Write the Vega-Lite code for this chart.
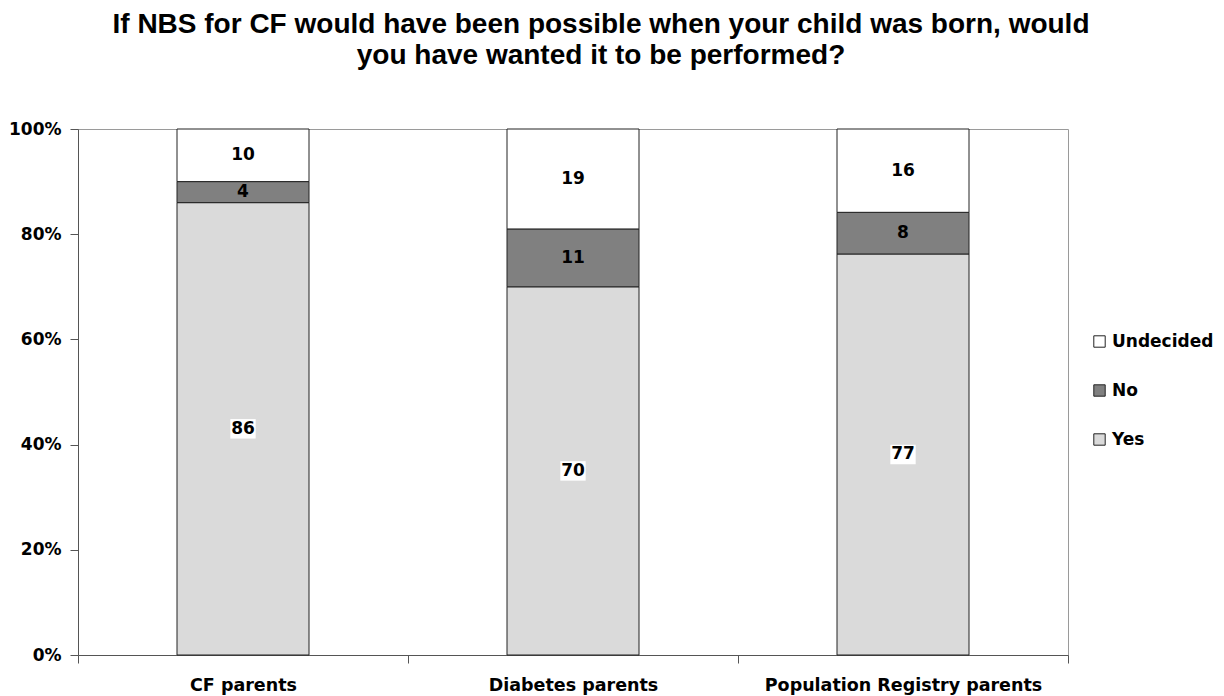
{
  "$schema": "https://vega.github.io/schema/vega-lite/v6.json",
  "autosize": {"type": "none"},
  "width": 990,
  "height": 526,
  "padding": {"left": 78, "top": 129, "right": 156, "bottom": 41},
  "background": "white",
  "title": {
    "text": ["If NBS for CF would have been possible when your child was born, would", "you have wanted it to be performed?"],
    "font": "Liberation Sans",
    "fontSize": 28,
    "fontWeight": "bold",
    "color": "black",
    "anchor": "middle",
    "dx": 28,
    "offset": 50,
    "lineHeight": 31
  },
  "config": {
    "view": {"stroke": "#9a9a9a", "strokeWidth": 1},
    "font": "DejaVu Sans"
  },
  "data": {
    "values": [
      {"group": "CF parents", "answer": "Yes", "pct": 86},
      {"group": "CF parents", "answer": "No", "pct": 4},
      {"group": "CF parents", "answer": "Undecided", "pct": 10},
      {"group": "Diabetes parents", "answer": "Yes", "pct": 70},
      {"group": "Diabetes parents", "answer": "No", "pct": 11},
      {"group": "Diabetes parents", "answer": "Undecided", "pct": 19},
      {"group": "Population Registry parents", "answer": "Yes", "pct": 77},
      {"group": "Population Registry parents", "answer": "No", "pct": 8},
      {"group": "Population Registry parents", "answer": "Undecided", "pct": 16}
    ]
  },
  "transform": [
    {"calculate": "indexof(['Yes','No','Undecided'], datum.answer)", "as": "ord"},
    {"stack": "pct", "groupby": ["group"], "sort": [{"field": "ord", "order": "ascending"}], "offset": "normalize", "as": ["v0", "v1"]},
    {"calculate": "(datum.v0 + datum.v1) / 2", "as": "mid"}
  ],
  "encoding": {
    "x": {
      "field": "group",
      "type": "nominal",
      "sort": ["CF parents", "Diabetes parents", "Population Registry parents"],
      "scale": {"paddingInner": 0, "paddingOuter": 0},
      "axis": {
        "title": null,
        "labelAngle": 0,
        "labelFont": "DejaVu Sans",
        "labelFontSize": 17.5,
        "labelFontWeight": "bold",
        "labelColor": "black",
        "labelPadding": 13,
        "labelLimit": 400,
        "tickBand": "extent",
        "tickSize": 8,
        "tickColor": "#555555",
        "domainColor": "#555555",
        "grid": false
      }
    }
  },
  "layer": [
    {
      "mark": {"type": "bar", "stroke": "#222222", "strokeWidth": 1, "width": {"band": 0.4}},
      "encoding": {
        "y": {
          "field": "v0",
          "type": "quantitative",
          "scale": {"domain": [0, 1]},
          "axis": {
            "title": null,
            "format": ".0%",
            "values": [0, 0.2, 0.4, 0.6, 0.8, 1],
            "labelFont": "DejaVu Sans",
            "labelFontSize": 17,
            "labelFontWeight": "bold",
            "labelColor": "black",
            "labelPadding": 9,
            "tickSize": 8,
            "tickColor": "#555555",
            "domainColor": "#555555",
            "grid": false
          }
        },
        "y2": {"field": "v1"},
        "color": {
          "field": "answer",
          "type": "nominal",
          "scale": {"domain": ["Undecided", "No", "Yes"], "range": ["#ffffff", "#808080", "#dadada"]},
          "legend": {
            "title": null,
            "orient": "none",
            "legendX": 1013,
            "legendY": 204,
            "values": ["Undecided", "No", "Yes"],
            "symbolType": "square",
            "symbolSize": 130,
            "symbolStrokeColor": "#222222",
            "symbolStrokeWidth": 1,
            "symbolOpacity": 1,
            "labelFont": "DejaVu Sans",
            "labelFontSize": 17,
            "labelFontWeight": "bold",
            "labelColor": "black",
            "labelOffset": 4,
            "rowPadding": 31
          }
        }
      }
    },
    {
      "transform": [{"filter": "datum.answer == 'Yes'"}],
      "mark": {"type": "point", "shape": "M-1.3,-1H1.3V1H-1.3Z", "filled": true, "color": "white", "opacity": 1, "size": 380},
      "encoding": {
        "y": {"field": "mid", "type": "quantitative"}
      }
    },
    {
      "mark": {"type": "text", "font": "DejaVu Sans", "fontSize": 17, "fontWeight": "bold", "color": "black", "baseline": "middle", "align": "center"},
      "encoding": {
        "y": {"field": "mid", "type": "quantitative"},
        "text": {"field": "pct", "type": "quantitative"}
      }
    }
  ]
}
